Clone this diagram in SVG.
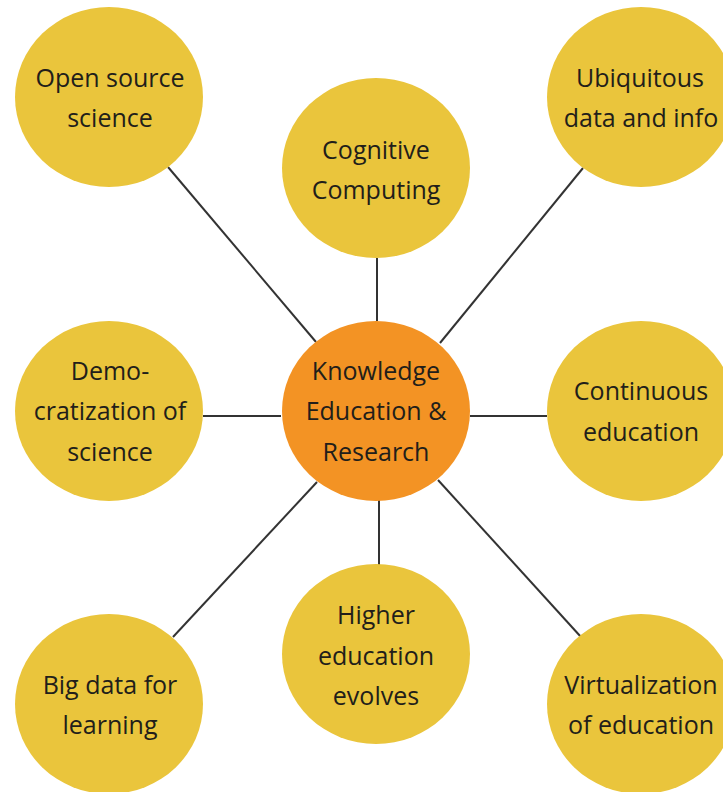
<svg xmlns="http://www.w3.org/2000/svg" width="723" height="792" viewBox="0 0 723 792">
<style>
.node{fill:#EAC53C}
.hub{fill:#F39324}
.lbl{font-family:"Open Sans","Noto Sans",sans-serif;font-size:25px;fill:#221e1a;text-anchor:middle}
.conn line{stroke:#333;stroke-width:2}
</style>
<rect width="723" height="792" fill="#fff"/>
<g id="connectors" class="conn">
<line x1="168" y1="167" x2="316" y2="342"/>
<line x1="377" y1="258" x2="377" y2="321"/>
<line x1="583" y1="168" x2="440" y2="343"/>
<line x1="203" y1="416" x2="281" y2="416"/>
<line x1="470" y1="416" x2="547" y2="416"/>
<line x1="317" y1="482" x2="173" y2="637"/>
<line x1="379" y1="500" x2="379" y2="565"/>
<line x1="438" y1="480" x2="581" y2="637"/>
</g>
<g id="open-source-science"><ellipse class="node" cx="109" cy="97" rx="94" ry="90"/><text class="lbl" x="110" y="87">Open source</text><text class="lbl" x="110" y="127">science</text></g>
<g id="cognitive-computing"><ellipse class="node" cx="376" cy="168" rx="94" ry="90"/><text class="lbl" x="376" y="159">Cognitive</text><text class="lbl" x="376" y="199">Computing</text></g>
<g id="ubiquitous-data"><ellipse class="node" cx="641" cy="97" rx="94" ry="90"/><text class="lbl" x="640" y="87">Ubiquitous</text><text class="lbl" x="641" y="127">data and info</text></g>
<g id="democratization"><ellipse class="node" cx="109" cy="411" rx="94" ry="90"/><text class="lbl" x="110" y="380">Demo-</text><text class="lbl" x="110" y="420">cratization of</text><text class="lbl" x="110" y="461">science</text></g>
<g id="hub"><ellipse class="hub" cx="376" cy="411" rx="94" ry="90"/><text class="lbl" x="376" y="380">Knowledge</text><text class="lbl" x="376" y="420">Education &amp;</text><text class="lbl" x="376" y="461">Research</text></g>
<g id="continuous-education"><ellipse class="node" cx="641" cy="411" rx="94" ry="90"/><text class="lbl" x="641" y="400">Continuous</text><text class="lbl" x="641" y="441">education</text></g>
<g id="big-data"><ellipse class="node" cx="109" cy="704" rx="94" ry="90"/><text class="lbl" x="110" y="694">Big data for</text><text class="lbl" x="110" y="734">learning</text></g>
<g id="higher-education"><ellipse class="node" cx="376" cy="654" rx="94" ry="90"/><text class="lbl" x="376" y="624">Higher</text><text class="lbl" x="376" y="665">education</text><text class="lbl" x="376" y="705">evolves</text></g>
<g id="virtualization"><ellipse class="node" cx="641" cy="704" rx="94" ry="90"/><text class="lbl" x="641" y="694">Virtualization</text><text class="lbl" x="641" y="734">of education</text></g>
</svg>
